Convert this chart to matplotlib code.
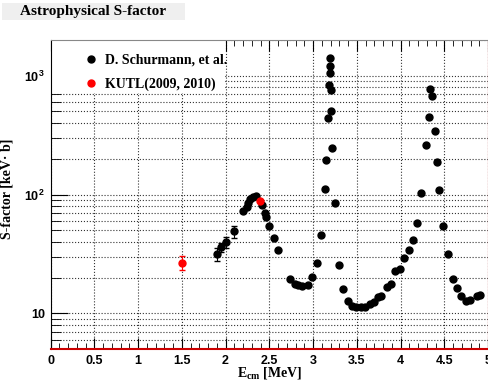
import matplotlib.pyplot as plt
from matplotlib.patches import Rectangle
from matplotlib.ticker import FixedLocator, FixedFormatter, MultipleLocator, NullFormatter

# D. Schurmann et al.
schur_e = [1.905, 1.954, 2.0, 2.098, 2.197, 2.24, 2.258, 2.285, 2.315, 2.354,
           2.42, 2.449, 2.468, 2.498, 2.551, 2.6, 2.742, 2.791, 2.829, 2.879,
           2.943, 2.993, 3.042, 3.096, 3.142, 3.153, 3.171, 3.18, 3.191, 3.191,
           3.198, 3.21, 3.21, 3.217, 3.248, 3.297, 3.342, 3.396, 3.442, 3.487,
           3.545, 3.598, 3.647, 3.693, 3.742, 3.781, 3.845, 3.895, 3.941, 3.99,
           4.039, 4.092, 4.138, 4.192, 4.237, 4.294, 4.321, 4.336, 4.363, 4.389,
           4.416, 4.438, 4.484, 4.541, 4.598, 4.644, 4.694, 4.743, 4.789, 4.876,
           4.914]
schur_s = [31.6, 36.1, 39.7, 48.9, 72.1, 78.7, 85.1, 90.8, 95.6, 97.8,
           82.2, 70.0, 64.2, 54.6, 42.7, 34.2, 19.3, 17.5, 17.2, 16.9,
           17.3, 20.1, 26.7, 45.5, 111.7, 195, 443, 828, 1422, 1199,
           1048, 760, 502, 247, 84.4, 25.5, 15.9, 12.7, 11.5, 11.2,
           11.3, 11.2, 11.9, 12.5, 13.6, 14.0, 16.5, 17.5, 22.7, 23.6,
           29.4, 34.2, 41.0, 57.5, 103, 260, 451, 775, 681, 340,
           186, 110, 53.8, 31.6, 19.3, 16.4, 13.9, 12.6, 12.9, 13.9,
           14.2]
schur_err = [4, 3, 4, 5.5] + [0] * (len(schur_e) - 4)

# KUTL (2009, 2010)
kutl_e = [1.5, 2.392]
kutl_s = [26.7, 88.9]
kutl_err = [3.4, 0]

fig = plt.figure(figsize=(4.89, 3.83), dpi=100)
ax = fig.add_axes([50.5 / 489, 1 - 349 / 383, 437.5 / 489, 309 / 383])

ax.errorbar(schur_e, schur_s, yerr=schur_err, fmt='none', ecolor='black',
            capsize=2, elinewidth=0.8, zorder=3)
ax.plot(schur_e, schur_s, 'o', color='black', ms=5, label='D. Schurmann, et al.', zorder=3)
ax.errorbar(kutl_e, kutl_s, yerr=kutl_err, fmt='none', ecolor='red',
            capsize=2, elinewidth=0.8, zorder=4)
ax.plot(kutl_e, kutl_s, 'o', color='red', ms=5, label='KUTL(2009, 2010)', zorder=4)

ax.set_yscale('log')
ax.set_xlim(0, 5)
ax.set_ylim(5, 2000)

tick_font = dict(family='Liberation Sans', weight='bold', size=9)
ax.xaxis.set_major_locator(MultipleLocator(0.5))
ax.xaxis.set_minor_locator(MultipleLocator(0.1))
ax.set_xticklabels([('%g' % v) for v in ax.get_xticks()], **tick_font)
ax.yaxis.set_major_locator(FixedLocator([10, 100, 1000]))
ax.yaxis.set_major_formatter(FixedFormatter(['10', r'$\mathregular{10^{2}}$',
                                             r'$\mathregular{10^{3}}$']))
minors = [m * d for d in (1, 10, 100, 1000) for m in range(2, 10)]
ax.yaxis.set_minor_locator(FixedLocator(minors))
ax.yaxis.set_minor_formatter(NullFormatter())
for lbl in ax.get_yticklabels():
    lbl.set_fontfamily('Liberation Sans')
    lbl.set_fontweight('bold')
    lbl.set_fontsize(9)

ax.tick_params(which='both', direction='in', top=True, right=False, pad=4)
ax.tick_params(axis='y', which='major', length=12)
ax.tick_params(axis='y', which='minor', length=7)
ax.tick_params(axis='x', which='major', length=8)
ax.tick_params(axis='x', which='minor', length=4)

ax.grid(True, which='major', axis='x', linestyle=':', color='#333333', lw=0.8)
ax.grid(True, which='both', axis='y', linestyle=':', color='#333333', lw=0.8)

ax.spines['top'].set_color('#888888')
ax.spines['right'].set_color('#cc0000')
ax.spines['bottom'].set_color('#cc0000')
ax.spines['bottom'].set_linewidth(1.5)

label_font = dict(family='Liberation Serif', weight='bold', size=10)
ax.set_xlabel(r'$\mathregular{E_{cm}}$ [MeV]', labelpad=-1, **label_font)
ax.set_ylabel('S-factor [keV\u00b7 b]', **label_font)
ax.yaxis.set_label_coords(-0.085, 0.52)

# white legend area covering the grid
ax.add_patch(Rectangle((0.003, 0.828), 0.396, 0.168, transform=ax.transAxes,
                       facecolor='white', edgecolor='none', zorder=2.5))
leg = ax.legend(loc='upper left', frameon=False,
                prop=dict(family='Liberation Serif', weight='bold', size=10),
                handlelength=0.8, handletextpad=0.6, labelspacing=0.8,
                borderpad=0.5, borderaxespad=0.5,
                bbox_to_anchor=(21 / 437.5, 1.0))
leg.set_zorder(5)

fig.patches.append(Rectangle((2 / 489, 1 - 20 / 383), 183 / 489, 17 / 383,
                             transform=fig.transFigure, facecolor='#efefef',
                             edgecolor='none'))
fig.text(20 / 489, 1 - 12 / 383, 'Astrophysical S-factor', ha='left', va='center',
         family='Liberation Serif', weight='bold', size=11)

fig.savefig('out.png', dpi=100)
